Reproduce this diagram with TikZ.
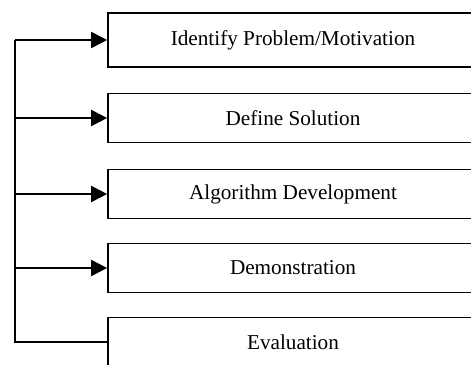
\documentclass[tikz,border=0pt]{standalone}
\usepackage{fontspec}
\setmainfont{Liberation Serif}
\usetikzlibrary{arrows.meta,positioning}

\begin{document}
\begin{tikzpicture}[x=0.5pt,y=-0.5pt,node distance=38pt,
    stage/.style={draw,line width=0.85pt,minimum width=185pt,minimum height=24.5pt,inner sep=0pt,font=\fontsize{10.6}{12}\selectfont},
    feed/.style={-{Triangle[length=8pt,width=8pt]},line width=1pt}]
          \useasboundingbox (0,0) rectangle (471,364);
          \node(I)[stage,minimum height=27pt] at (293,40) {Identify Problem/Motivation};
          \node(D)[stage,below of=I,node distance=39pt]{Define Solution};
          \node(A)[stage,below of=D]{Algorithm Development};
          \node(M)[stage,below of=A,node distance=37pt]{Demonstration};
          \node(E)[stage,below of=M,node distance=37pt]{Evaluation};
          \coordinate(top) at (15,40);
          \draw[line width=0.65pt] (top) |- (E.west);
          \foreach \s in {I,D,A,M}
            \draw[feed] (top |- \s.west) -- (\s.west);
        \end{tikzpicture}
\end{document}
